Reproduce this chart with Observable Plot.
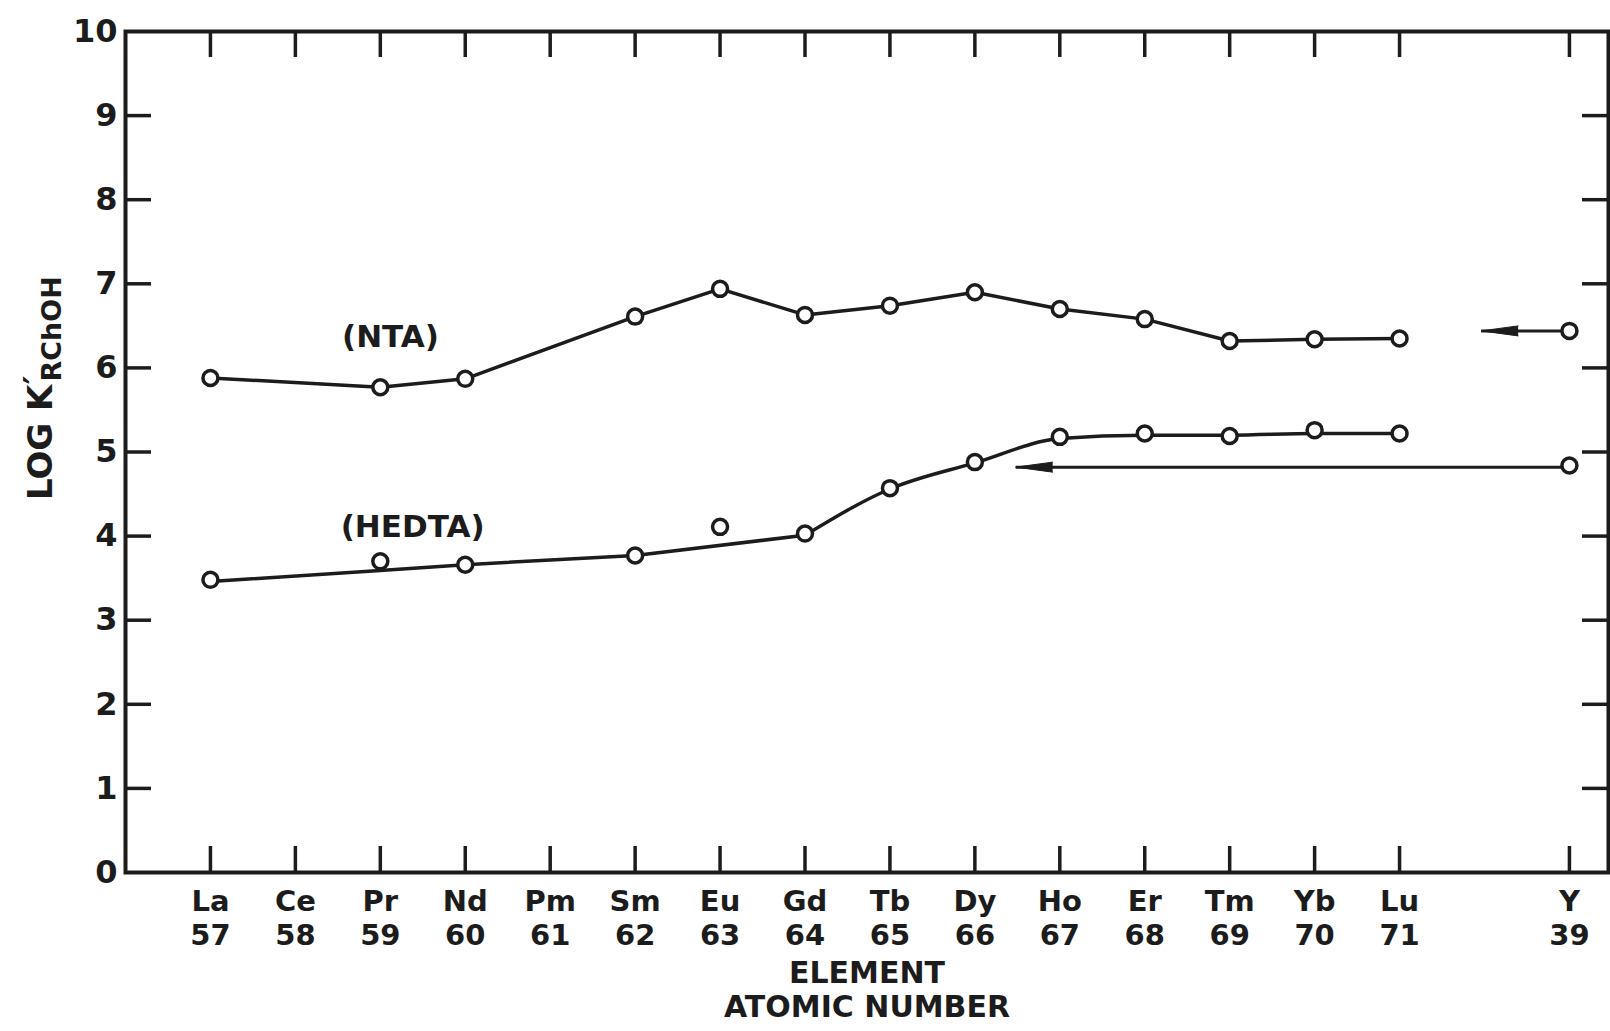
<!DOCTYPE html>
<html><head><meta charset="utf-8">
<script src="https://cdn.jsdelivr.net/npm/d3@7"></script>
<script src="https://cdn.jsdelivr.net/npm/@observablehq/plot@0.6"></script>
<style>html,body{margin:0;padding:0;background:#fff;overflow:hidden}</style>
</head><body><div id="chart"></div>
<script>
// ---- data ----
const symbols = ["La","Ce","Pr","Nd","Pm","Sm","Eu","Gd","Tb","Dy","Ho","Er","Tm","Yb","Lu","Y"];
const atomicNumbers = [57,58,59,60,61,62,63,64,65,66,67,68,69,70,71,39];
const slots = [0,1,2,3,4,5,6,7,8,9,10,11,12,13,14,16];
const ntaValues   = [5.88,null,5.77,5.87,null,6.61,6.94,6.63,6.74,6.90,6.70,6.58,6.32,6.34,6.35,6.44];
const hedtaValues = [3.48,null,3.70,3.66,null,3.77,4.11,4.03,4.57,4.88,5.18,5.22,5.19,5.26,5.22,4.84];
const hedtaCurve  = [3.46,null,3.59,3.66,null,3.77,null,4.01,4.56,4.87,5.16,5.20,5.20,5.22,5.22,null];
const yTicks = [0,1,2,3,4,5,6,7,8,9,10];
const yttriumArrowTips = [14.96, 9.48];   // x slot where each Y arrow ends (NTA, HEDTA)
const yttriumArrowY = [6.44, 4.82];

// ---- derived tables ----
const ink = "#1c1c1c";
const isLanthanide = (i) => slots[i] <= 14;
const ntaPts = slots.map((s,i)=>({x:s,y:ntaValues[i]})).filter(d=>d.y!=null);
const hedtaPts = slots.map((s,i)=>({x:s,y:hedtaValues[i]})).filter(d=>d.y!=null);
const ntaLine = slots.map((s,i)=>({x:s,y:ntaValues[i]})).filter((d,i)=>d.y!=null && isLanthanide(i));
const hedtaAll = slots.map((s,i)=>({x:s,y:hedtaCurve[i]})).filter(d=>d.y!=null);
const bendSlot = 7; // Gd: straight below, smooth rise above
const hedtaLow = hedtaAll.filter(d=>d.x<=bendSlot);
const hedtaHigh = hedtaAll.filter(d=>d.x>=bendSlot);
const ySlot = slots[slots.length-1];
const arrows = yttriumArrowTips.map((t,i)=>({from:ySlot, to:t, y:yttriumArrowY[i]}));

const W=1610, H=1031, mL=125, mR=2, mT=31, mB=159;
const xDomain=[-1,16.46];
const pxPerX=(W-mL-mR)/(xDomain[1]-xDomain[0]);
const pxPerY=(H-mT-mB)/10;
const tickPx=26;
const tx=tickPx/pxPerX, ty=tickPx/pxPerY;
const inner = yTicks.filter(v=>v>0 && v<10);
const font = "DejaVu Sans";

const plot = Plot.plot({
  width: W, height: H,
  marginLeft: mL, marginRight: mR, marginTop: mT, marginBottom: mB,
  x: {domain: xDomain},
  y: {domain: [0,10]},
  style: {fontFamily: font, fontWeight: "bold", background: "#fff", color: ink},
  marks: [
    Plot.ruleX(slots, {x: d=>d, y1: 0, y2: ty, stroke: ink, strokeWidth: 3.5}),
    Plot.ruleX(slots, {x: d=>d, y1: 10, y2: 10-ty, stroke: ink, strokeWidth: 3.5}),
    Plot.ruleY(inner, {y: d=>d, x1: xDomain[0], x2: xDomain[0]+tx, stroke: ink, strokeWidth: 3.5}),
    Plot.ruleY(inner, {y: d=>d, x1: xDomain[1]-tx, x2: xDomain[1], stroke: ink, strokeWidth: 3.5}),
    Plot.frame({stroke: ink, strokeWidth: 4}),
    Plot.axisY(yTicks, {anchor: "left", tickSize: 0, tickPadding: 8, fontSize: 32, label: null, tickFormat: d=>String(d), fill: ink}),
    Plot.axisX(slots, {anchor: "bottom", tickSize: 0, tickPadding: 14, fontSize: 29, lineHeight: 1.172, label: null,
      tickFormat: d => { const i = slots.indexOf(d); return symbols[i] + "\n" + atomicNumbers[i]; }, fill: ink}),
    Plot.line(ntaLine, {x: "x", y: "y", stroke: ink, strokeWidth: 3.5}),
    Plot.line(hedtaLow, {x: "x", y: "y", stroke: ink, strokeWidth: 3.5}),
    Plot.line(hedtaHigh, {x: "x", y: "y", stroke: ink, strokeWidth: 3.5, curve: "monotone-x"}),
    Plot.link(arrows, {x1: "from", x2: "to", y1: "y", y2: "y", stroke: ink, strokeWidth: 3}),
    Plot.vector(arrows, {x: "to", y: "y", rotate: -90, length: 37, r: 5, shape: "spike", anchor: "end", fill: ink, stroke: ink, strokeWidth: 1}),
    Plot.dot(ntaPts, {x: "x", y: "y", r: 7.5, fill: "#fff", stroke: ink, strokeWidth: 3.5}),
    Plot.dot(hedtaPts, {x: "x", y: "y", r: 7.5, fill: "#fff", stroke: ink, strokeWidth: 3.5}),
    Plot.text(["(NTA)"], {x: 2.12, y: 6.25, lineAnchor: "bottom", fontSize: 31, fill: ink}),
    Plot.text(["(HEDTA)"], {x: 2.38, y: 3.99, lineAnchor: "bottom", fontSize: 31, fill: ink}),
    Plot.text(["ELEMENT\nATOMIC NUMBER"], {frameAnchor: "bottom", dy: 86, lineAnchor: "top", lineHeight: 1.15, fontSize: 30, fill: ink})
  ]
});

// y-axis title with prime and subscript
const svg = d3.select(plot);
const t = svg.append("text")
  .attr("transform", "translate(52,500) rotate(-90)")
  .attr("text-anchor", "start")
  .attr("font-family", font).attr("font-weight", "bold").attr("font-size", 34).attr("fill", ink);
t.append("tspan").text("LOG K");
t.append("tspan").attr("dy", -4).text("′");
t.append("tspan").attr("dx", -6).attr("dy", 13).attr("font-size", 27).text("RChOH");

document.getElementById("chart").appendChild(plot);
</script>
</body></html>
